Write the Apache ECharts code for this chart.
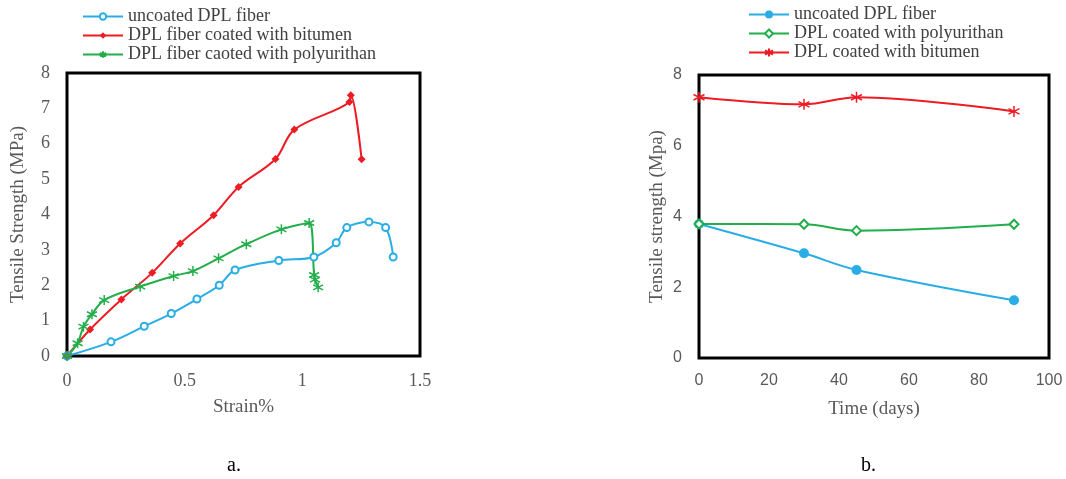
<!DOCTYPE html>
<html>
<head>
<meta charset="utf-8">
<script src="https://cdn.jsdelivr.net/npm/echarts@6/dist/echarts.min.js"></script>
<style>html,body{margin:0;padding:0;background:#fff;}#c{width:1066px;height:479px;}</style>
</head>
<body>
<div id="c"></div>
<script>
// ---- Panel a: Strain% vs Tensile Strength (MPa)
const aUncoatedStrain = [0, 0.187, 0.328, 0.443, 0.552, 0.647, 0.714, 0.90, 1.049, 1.144, 1.189, 1.283, 1.354, 1.386];
const aUncoatedStress = [0, 0.40, 0.84, 1.20, 1.61, 2.00, 2.43, 2.70, 2.80, 3.20, 3.63, 3.79, 3.63, 2.80];
const aBitumenStrain = [0, 0.098, 0.231, 0.362, 0.481, 0.623, 0.729, 0.886, 0.966, 1.20, 1.206, 1.252];
const aBitumenStress = [0, 0.75, 1.60, 2.35, 3.18, 3.98, 4.78, 5.57, 6.40, 7.18, 7.37, 5.56];
const aPolyStrain = [0, 0.045, 0.07, 0.106, 0.158, 0.311, 0.453, 0.535, 0.644, 0.762, 0.911, 1.029, 1.05, 1.054, 1.067];
const aPolyStress = [0, 0.36, 0.83, 1.18, 1.58, 1.96, 2.26, 2.40, 2.76, 3.16, 3.58, 3.76, 2.29, 2.16, 1.94];
const aNames = ['uncoated DPL fiber', 'DPL fiber coated with bitumen', 'DPL fiber caoted with polyurithan'];

// ---- Panel b: Time (days) vs Tensile strength (Mpa)
const bDays = [0, 30, 45, 90];
const bUncoated = [3.79, 2.96, 2.49, 1.63];
const bPoly = [3.79, 3.78, 3.60, 3.78];
const bBitumen = [7.37, 7.17, 7.37, 6.97];
const bNames = ['uncoated DPL fiber', 'DPL coated with polyurithan', 'DPL coated with bitumen'];

const BLUE = '#29ADE4', RED = '#ED1C24', GREEN = '#22AE4B';
const SERIF = '"Liberation Serif", "Times New Roman", serif';
const SANS = '"Liberation Sans", Arial, sans-serif';
const ASTER = 'path://M5,0L5,10M0.67,2.5L9.33,7.5M0.67,7.5L9.33,2.5';

function pairs(xs, ys) { return xs.map((x, i) => [x, ys[i]]); }

const chart = echarts.init(document.getElementById('c'), null, {renderer: 'canvas'});

const tickColor = '#595959';
const option = {
  animation: false,
  backgroundColor: '#fff',
  grid: [
    {left: 67, right: 646, top: 73, bottom: 123, show: true, borderColor: '#000', borderWidth: 3, backgroundColor: 'transparent'},
    {left: 699, right: 17, top: 75, bottom: 121, show: true, borderColor: '#000', borderWidth: 3, backgroundColor: 'transparent'}
  ],
  xAxis: [
    {gridIndex: 0, type: 'value', min: 0, max: 1.5, interval: 0.5,
     name: 'Strain%', nameLocation: 'middle', nameGap: 42,
     nameTextStyle: {fontFamily: SERIF, fontSize: 19, color: tickColor},
     axisLine: {show: false}, axisTick: {show: false}, splitLine: {show: false},
     axisLabel: {fontFamily: SERIF, fontSize: 18, color: tickColor, margin: 16}},
    {gridIndex: 1, type: 'value', min: 0, max: 100, interval: 20,
     name: 'Time (days)', nameLocation: 'middle', nameGap: 42,
     nameTextStyle: {fontFamily: SERIF, fontSize: 19, color: tickColor},
     axisLine: {show: false}, axisTick: {show: false}, splitLine: {show: false},
     axisLabel: {fontFamily: SANS, fontSize: 16, color: tickColor, margin: 15}}
  ],
  yAxis: [
    {gridIndex: 0, type: 'value', min: 0, max: 8, interval: 1,
     name: 'Tensile Strength (MPa)', nameLocation: 'middle', nameGap: 39,
     nameTextStyle: {fontFamily: SERIF, fontSize: 19, color: tickColor},
     axisLine: {show: false}, axisTick: {show: false}, splitLine: {show: false},
     axisLabel: {fontFamily: SERIF, fontSize: 18, color: tickColor, margin: 17}},
    {gridIndex: 1, type: 'value', min: 0, max: 8, interval: 2,
     name: 'Tensile strength (Mpa)', nameLocation: 'middle', nameGap: 32,
     nameTextStyle: {fontFamily: SERIF, fontSize: 19, color: tickColor},
     axisLine: {show: false}, axisTick: {show: false}, splitLine: {show: false},
     axisLabel: {fontFamily: SANS, fontSize: 16, color: tickColor, margin: 17}}
  ],
  legend: [
    {orient: 'vertical', left: 82, top: 7, padding: 0, itemWidth: 40, itemHeight: 8, itemGap: 0,
     data: aNames.map(n => 'a:' + n),
     formatter: n => n.slice(2),
     textStyle: {fontFamily: SERIF, fontSize: 18, color: '#404040', lineHeight: 19}},
    {orient: 'vertical', left: 748, top: 5, padding: 0, itemWidth: 40, itemHeight: 10, itemGap: 0,
     data: bNames.map(n => 'b:' + n),
     formatter: n => n.slice(2),
     textStyle: {fontFamily: SERIF, fontSize: 18, color: '#404040', lineHeight: 19}}
  ],
  graphic: [
    {type: 'text', left: 227, top: 456, style: {text: 'a.', font: '20px ' + SERIF, fill: '#000'}},
    {type: 'text', left: 861, top: 456, style: {text: 'b.', font: '20px ' + SERIF, fill: '#000'}}
  ],
  series: [
    {name: 'a:' + aNames[0], type: 'line', xAxisIndex: 0, yAxisIndex: 0, smooth: 0.35,
     data: pairs(aUncoatedStrain, aUncoatedStress), symbol: 'emptyCircle', symbolSize: 7,
     lineStyle: {color: BLUE, width: 2}, itemStyle: {color: BLUE, borderWidth: 1.3}},
    {name: 'a:' + aNames[1], type: 'line', xAxisIndex: 0, yAxisIndex: 0, smooth: 0.35,
     data: pairs(aBitumenStrain, aBitumenStress), symbol: 'diamond', symbolSize: 8,
     lineStyle: {color: RED, width: 2}, itemStyle: {color: RED}},
    {name: 'a:' + aNames[2], type: 'line', xAxisIndex: 0, yAxisIndex: 0, smooth: 0.35,
     data: pairs(aPolyStrain, aPolyStress), symbol: ASTER, symbolSize: 10,
     lineStyle: {color: GREEN, width: 2}, itemStyle: {color: GREEN, borderColor: GREEN, borderWidth: 1.5}},
    {name: 'b:' + bNames[0], type: 'line', xAxisIndex: 1, yAxisIndex: 1, smooth: 0.35,
     data: pairs(bDays, bUncoated), symbol: 'circle', symbolSize: 10,
     lineStyle: {color: BLUE, width: 2}, itemStyle: {color: BLUE}},
    {name: 'b:' + bNames[1], type: 'line', xAxisIndex: 1, yAxisIndex: 1, smooth: 0.35,
     data: pairs(bDays, bPoly), symbol: 'emptyDiamond', symbolSize: 9,
     lineStyle: {color: GREEN, width: 2}, itemStyle: {color: GREEN, borderWidth: 1.5}},
    {name: 'b:' + bNames[2], type: 'line', xAxisIndex: 1, yAxisIndex: 1, smooth: 0.35,
     data: pairs(bDays, bBitumen), symbol: ASTER, symbolSize: 11,
     lineStyle: {color: RED, width: 2}, itemStyle: {color: RED, borderColor: RED, borderWidth: 1.5}}
  ]
};
chart.setOption(option);
</script>
</body>
</html>
